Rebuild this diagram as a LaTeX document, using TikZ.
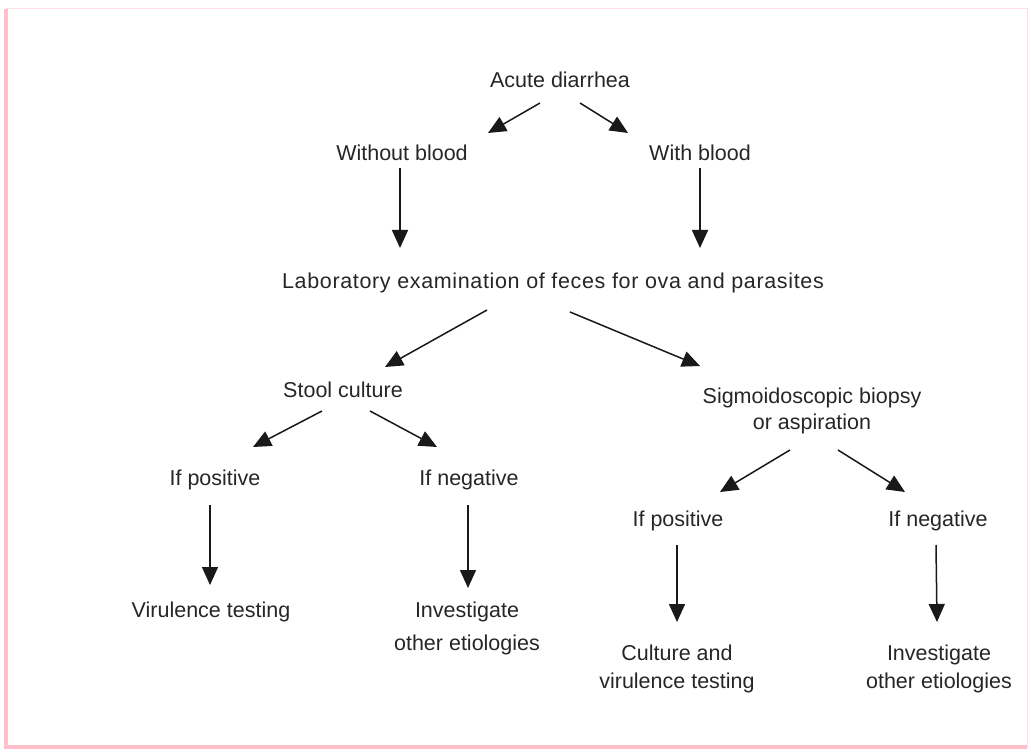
\documentclass[tikz,border=0pt]{standalone}
\usepackage{fontspec}
\setmainfont{Liberation Sans}
\usepackage[svgnames]{xcolor}
\usetikzlibrary{arrows.meta}

\begin{document}
\begin{tikzpicture}[x=1pt,y=-1pt,
   txt/.style={font=\fontsize{21.5}{28}\selectfont,text=black!85,inner sep=0pt,align=center},
   arr/.style={line width=1.5pt,draw=black!90,-{Triangle[length=18pt,width=16pt]}}]
   %marco
   \useasboundingbox (0,0) rectangle (1031,754);
   \draw[color=Pink!50,line width=1pt] (6,9) rectangle (1027,747);
   \draw[color=Pink,line width=4pt] (6,9) -- (6,747) -- (1027,747);
   %textos
   \node[txt] (acute)   at (560,80)  {Acute diarrhea};
   \node[txt] (without) at (402,153) {Without blood};
   \node[txt] (with)    at (700,153) {With blood};
   \node[txt] (lab)     at (553,283) {\addfontfeatures{LetterSpace=3}Laboratory examination of feces for ova and parasites};
   \node[txt] (stool)   at (343,390) {Stool culture};
   \node[txt] (sigmo)   at (812,411) {Sigmoidoscopic biopsy\\[-2pt]or aspiration};
   \node[txt] (posL)    at (215,480) {If positive};
   \node[txt] (negL)    at (469,480) {If negative};
   \node[txt] (virul)   at (211,612) {Virulence testing};
   \node[txt] (invL)    at (467,628) {Investigate\\[5pt]other etiologies};
   \node[txt] (posR)    at (678,521) {If positive};
   \node[txt] (negR)    at (938,521) {If negative};
   \node[txt] (cult)    at (677,669) {Culture and\\virulence testing};
   \node[txt] (invR)    at (939,669) {Investigate\\other etiologies};
   %flechas
   \draw[arr] ([shift={(-20,23)}]acute.center) -- ([shift={(86,-20)}]without.center);
   \draw[arr] ([shift={(20,23)}]acute.center) -- ([shift={(-72,-20)}]with.center);
   \draw[arr] ([shift={(-2,15)}]without.center) -- ([shift={(-153,-35)}]lab.center);
   \draw[arr] ([shift={(0,15)}]with.center) -- ([shift={(147,-35)}]lab.center);
   \draw[arr] ([shift={(-66,27)}]lab.center) -- ([shift={(42,-23)}]stool.center);
   \draw[arr] ([shift={(17,29)}]lab.center) -- ([shift={(-112,-45)}]sigmo.center);
   \draw[arr] ([shift={(-21,21)}]stool.center) -- ([shift={(38,-33)}]posL.center);
   \draw[arr] ([shift={(27,21)}]stool.center) -- ([shift={(-32,-33)}]negL.center);
   \draw[arr] ([shift={(-5,25)}]posL.center) -- ([shift={(-1,-27)}]virul.center);
   \draw[arr] ([shift={(-1,25)}]negL.center) -- ([shift={(1,-40)}]invL.center);
   \draw[arr] ([shift={(-22,39)}]sigmo.center) -- ([shift={(42,-29)}]posR.center);
   \draw[arr] ([shift={(26,39)}]sigmo.center) -- ([shift={(-33,-29)}]negR.center);
   \draw[arr] ([shift={(-1,24)}]posR.center) -- ([shift={(0,-47)}]cult.center);
   \draw[arr] ([shift={(-2,24)}]negR.center) -- ([shift={(-2,-47)}]invR.center);
\end{tikzpicture}
\end{document}
